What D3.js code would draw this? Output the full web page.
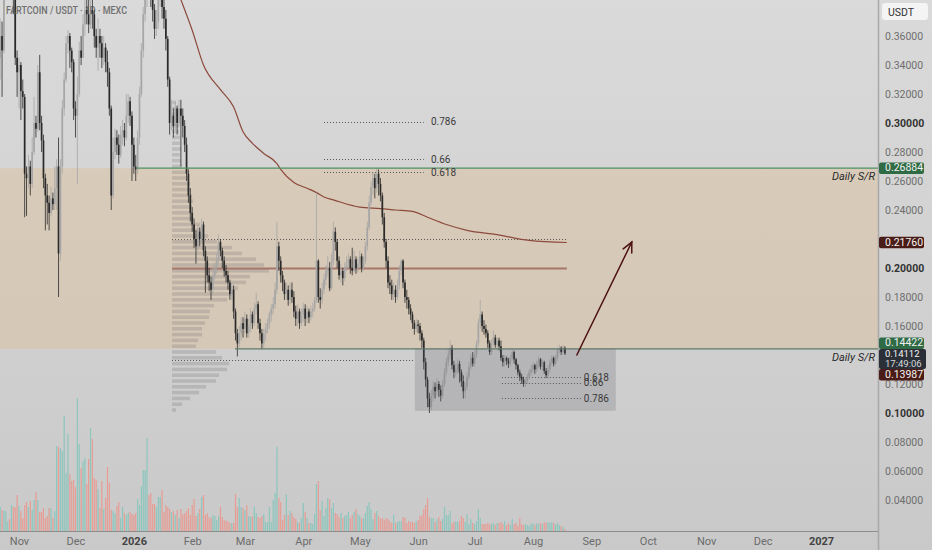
<!DOCTYPE html>
<html>
<head>
<meta charset="utf-8">
<script src="https://cdn.jsdelivr.net/npm/d3@7"></script>
<style>
  html, body { margin: 0; padding: 0; background: #d2d2d2; }
  svg { display: block; font-family: Roboto, "Liberation Sans", sans-serif; }
</style>
</head>
<body>
<div id="chart"></div>
<script>
// Daily candles, first candle = 22 Oct 2025, open of each candle = previous close
const startDay = Date.UTC(2025, 9, 22);
const firstOpen = 0.345;

const closes = [
  .360,.350,.390,.400,.405,.395,.400,.385,.345,.335,
  .340,.322,.318,.265,.262,.270,.258,.280,.300,.296,
  .335,.300,.288,.262,.250,.245,.238,.248,.244,.255,
  .270,.210,.270,.310,.330,.355,.360,.350,.342,.310,
  .305,.320,.350,.345,.368,.378,.375,.368,.378,.375,
  .360,.352,.360,.355,.345,.352,.342,.335,.310,.250,
  .280,.290,.285,.278,.292,.295,.290,.305,.315,.305,
  .285,.270,.268,.290,.320,.350,.375,.385,.400,.395,
  .390,.378,.365,.370,.385,.390,.380,.372,.358,.330,
  .300,.305,.298,.310,.300,.310,.305,.298,.285,.265,
  .250,.238,.230,.220,.215,.225,.220,.230,.212,.205,
  .195,.190,.185,.195,.200,.205,.218,.212,.205,.198,
  .195,.190,.182,.185,.170,.155,.148,.155,.162,.158,
  .165,.155,.160,.168,.162,.172,.175,.162,.155,.148,
  .155,.158,.162,.168,.172,.175,.185,.215,.205,.195,
  .190,.182,.185,.178,.185,.180,.170,.165,.170,.162,
  .168,.172,.165,.170,.166,.170,.172,.178,.205,.180,
  .178,.185,.192,.198,.200,.186,.205,.225,.218,.205,
  .195,.198,.193,.200,.203,.206,.200,.198,.206,.200,
  .203,.208,.200,.205,.215,.228,.245,.256,.262,.255,
  .265,.258,.250,.235,.218,.205,.190,.188,.182,.185,
  .180,.188,.198,.205,.190,.180,.178,.172,.168,.162,
  .158,.161,.160,.155,.150,.135,.123,.110,.104,.112,
  .118,.115,.120,.116,.112,.120,.128,.135,.140,.145,
  .133,.128,.130,.134,.128,.122,.115,.118,.125,.132,
  .138,.134,.140,.148,.162,.168,.160,.158,.155,.148,
  .142,.148,.152,.147,.150,.146,.138,.135,.138,.136,
  .134,.138,.142,.137,.133,.128,.125,.123,.120,.122,
  .125,.128,.130,.133,.130,.134,.137,.132,.135,.129,
  .126,.130,.135,.138,.134,.138,.143,.145,.142,.145,
  .14112
];

const highs = [
  .372,.370,.400,.410,.420,.410,.412,.405,.388,.350,
  .345,.342,.330,.320,.270,.278,.274,.290,.318,.305,
  .340,.347,.305,.292,.265,.258,.250,.256,.252,.270,
  .275,.290,.275,.316,.335,.360,.364,.362,.352,.344,
  .315,.332,.356,.360,.375,.385,.388,.385,.390,.385,
  .378,.365,.372,.365,.360,.360,.355,.350,.338,.312,
  .290,.296,.295,.292,.298,.302,.300,.320,.320,.318,
  .308,.290,.278,.295,.325,.355,.380,.395,.410,.408,
  .400,.395,.382,.378,.392,.400,.395,.385,.378,.360,
  .332,.316,.310,.315,.312,.316,.316,.310,.302,.290,
  .268,.255,.242,.234,.226,.230,.228,.234,.232,.215,
  .208,.200,.194,.200,.204,.210,.223,.220,.214,.208,
  .202,.198,.192,.190,.188,.172,.158,.160,.166,.166,
  .170,.168,.165,.172,.170,.176,.183,.177,.165,.158,
  .158,.162,.165,.170,.175,.180,.190,.232,.218,.208,
  .198,.192,.190,.188,.190,.190,.184,.174,.175,.172,
  .172,.176,.175,.174,.172,.174,.176,.180,.252,.206,
  .186,.190,.196,.202,.208,.204,.210,.232,.228,.220,
  .208,.203,.200,.204,.208,.210,.208,.214,.212,.208,
  .207,.212,.210,.208,.218,.232,.250,.260,.266,.265,
  .269,.268,.262,.252,.238,.220,.208,.195,.192,.190,
  .188,.192,.202,.206,.206,.192,.185,.180,.175,.170,
  .164,.165,.164,.162,.157,.152,.138,.125,.114,.116,
  .122,.121,.124,.122,.119,.123,.131,.138,.144,.150,
  .147,.136,.134,.137,.136,.130,.126,.121,.128,.135,
  .141,.142,.143,.150,.165,.178,.170,.164,.161,.157,
  .150,.151,.157,.154,.152,.152,.150,.140,.140,.139,
  .138,.140,.144,.143,.138,.134,.130,.127,.125,.124,
  .127,.130,.133,.135,.134,.136,.139,.138,.137,.136,
  .131,.133,.137,.140,.139,.140,.145,.147,.146,.147,
  .146
];

const lows = [
  .330,.318,.348,.385,.395,.385,.390,.375,.340,.318,
  .310,.302,.310,.235,.236,.255,.250,.255,.278,.290,
  .294,.295,.280,.255,.226,.230,.226,.236,.240,.240,
  .240,.180,.205,.265,.305,.328,.348,.338,.335,.302,
  .290,.258,.318,.340,.345,.360,.368,.362,.365,.365,
  .352,.345,.336,.345,.338,.340,.335,.325,.305,.240,
  .248,.275,.278,.272,.276,.285,.284,.288,.300,.298,
  .260,.265,.260,.265,.285,.318,.345,.370,.380,.385,
  .380,.370,.358,.360,.365,.380,.372,.365,.350,.325,
  .292,.295,.290,.295,.292,.298,.270,.290,.280,.260,
  .245,.232,.225,.214,.203,.212,.215,.216,.208,.183,
  .190,.184,.178,.182,.192,.196,.203,.208,.200,.194,
  .190,.185,.178,.178,.165,.150,.139,.145,.150,.152,
  .155,.152,.152,.156,.158,.160,.168,.158,.150,.144,
  .145,.150,.155,.158,.163,.168,.172,.182,.198,.190,
  .184,.178,.178,.174,.175,.176,.166,.160,.160,.158,
  .160,.163,.160,.162,.162,.164,.166,.170,.176,.176,
  .172,.175,.182,.188,.194,.184,.185,.202,.212,.200,
  .192,.190,.188,.191,.198,.200,.196,.195,.197,.196,
  .197,.200,.197,.198,.203,.212,.226,.243,.250,.248,
  .252,.250,.246,.230,.214,.200,.186,.182,.178,.178,
  .176,.178,.185,.195,.186,.176,.172,.168,.164,.158,
  .154,.156,.155,.150,.145,.130,.118,.104,.100,.102,
  .108,.110,.112,.111,.108,.110,.118,.126,.132,.137,
  .130,.124,.125,.127,.121,.118,.110,.110,.116,.123,
  .130,.132,.132,.138,.146,.158,.156,.154,.152,.145,
  .140,.140,.146,.145,.144,.143,.136,.132,.132,.133,
  .131,.132,.136,.134,.130,.126,.122,.120,.118,.118,
  .120,.123,.126,.128,.127,.128,.131,.130,.129,.127,
  .124,.124,.128,.133,.132,.133,.136,.141,.140,.141,
  .140
];

// daily volume (relative units)
const volumes = [
  24,21,20,20,10,12,26,24,24,36, 25,20,13,26,29,24,30,21,31,39,
  31,19,19,23,13,15,23,23,13,20, 85,84,83,80,115,58,97,57,50,51,
  44,133,87,63,70,73,47,72,103,92, 53,51,42,23,50,22,33,64,48,21,
  20,18,25,29,13,24,18,16,18,19, 17,16,18,32,26,45,61,61,93,36,
  38,27,27,24,34,34,41,19,26,24, 22,19,20,16,21,13,22,17,18,20,
  23,16,26,32,15,18,22,34,36,16, 18,14,13,16,15,11,15,24,14,11,
  10,10,8,8,8,37,24,33,24,23, 21,26,15,14,15,24,18,14,13,15,
  17,9,9,24,9,31,38,84,33,29, 11,16,37,16,20,18,14,12,9,8,
  13,28,19,13,8,8,7,17,47,50, 21,30,15,23,33,32,23,28,18,17,
  14,18,13,15,16,19,13,16,19,22, 17,15,13,13,18,25,29,22,12,18,
  20,15,12,13,11,13,12,10,8,16, 8,9,10,10,14,13,8,10,9,9,
  8,10,11,15,16,22,26,33,14,13, 13,9,12,14,10,12,24,16,16,20,
  8,9,10,9,10,15,13,9,17,7, 12,8,7,10,22,13,7,7,7,8,
  7,7,8,6,8,8,9,7,10,6, 8,6,12,7,8,5,13,7,6,7,
  6,5,7,8,6,8,7,8,7,9, 8,9,8,9,8,7,8,6,5,4,
  2
];

// brown moving average, read at day indices
const maDays   = [90, 96, 102, 108, 117, 124, 129, 134, 140, 147, 149, 156, 163, 168, 172, 177, 191, 202, 210, 219, 227, 237, 248, 264, 281, 301];
const maValues = [.405,.385,.364,.340,.323,.311,.294,.286,.279,.272,.268,.259,.255,.252,.249,.247,.242,.241,.240,.239,.235,.230,.226,.223,.219,.2176];

// visible range volume profile (bin centre price, relative volume)
const profilePrices = [
  .102,.106,.110,.114,.118,.122,.126,.130,.134,.138,
  .142,.146,.150,.154,.158,.162,.166,.170,.174,.178,
  .182,.186,.190,.194,.198,.202,.206,.210,.214,.218,
  .222,.226,.230,.234,.238,.242,.246,.250,.254,.258,
  .262,.266,.270,.274,.278,.282,.286,.290,.294,.298,
  .302,.306,.310,.314
];
const profileVolumes = [
  4,10,18,27,34,44,47,55,57,50,
  44,24,26,30,30,33,37,38,42,55,
  60,66,74,78,97,92,84,70,60,45,
  36,32,28,22,20,20,21,20,19,18,
  16,15,10,9,8,9,8,8,7,7,
  6,6,5,4
];

const priceTicks = [0.04,0.06,0.08,0.10,0.12,0.14,0.16,0.18,0.20,0.22,0.24,0.26,0.28,0.30,0.32,0.34,0.36];
const boldTicks = [0.10, 0.20, 0.30];
const srLevels = [0.26884, 0.14422];          // Daily S/R
const midLevel = 0.1996;                       // brown horizontal
const upperFib = [[0.786, 0.3007], [0.66, 0.2751], [0.618, 0.2662]];
const lowerFib = [[0.618, 0.1248], [0.66, 0.1207], [0.786, 0.1103]];
const dottedLevels = [[0.2200, 301], [0.1365, 220]];   // price, end day
const boxRange = { d0: 220.3, d1: 327, p0: 0.1015, p1: 0.14422 };
const arrowPts = [[306.3, 0.1400], [335.5, 0.2179]];
const axisLabelValues = [0.26884, 0.21760, 0.14422, 0.14112, 0.13987];
const countdown = "17:49:06";
const title = "FARTCOIN / USDT · 1D · MEXC";

// ---- layout
const W = 932, H = 550;
const plotR = 878, plotB = 531;

const dayDate = i => new Date(startDay + i * 86400000);
const x = d3.scaleUtc()
  .domain([new Date(Date.UTC(2025, 10, 1)), new Date(Date.UTC(2027, 0, 1))])
  .range([19, 821]);
const xd = i => x(dayDate(i));
const y = d3.scaleLinear().domain([0.1, 0.3]).range([413, 123]);
const yVol = d3.scaleLinear().domain([0, 133]).range([plotB, 398]);
const profW = d3.scaleLinear().domain([0, 100]).range([0, 100]);

const svg = d3.select("#chart").append("svg")
  .attr("width", W).attr("height", H);

const defs = svg.append("defs");
const grad = defs.append("linearGradient").attr("id", "bg")
  .attr("x1", 0).attr("y1", 0).attr("x2", 0).attr("y2", 1);
grad.append("stop").attr("offset", "0%").attr("stop-color", "#dadada");
grad.append("stop").attr("offset", "100%").attr("stop-color", "#c9c9c9");
defs.append("clipPath").attr("id", "plot")
  .append("rect").attr("x", 0).attr("y", 0).attr("width", plotR).attr("height", plotB);

svg.append("rect").attr("width", W).attr("height", H).attr("fill", "url(#bg)");

const g = svg.append("g").attr("clip-path", "url(#plot)");

// S/R zone
g.append("rect")
  .attr("x", 0).attr("width", plotR)
  .attr("y", y(srLevels[0])).attr("height", y(srLevels[1]) - y(srLevels[0]))
  .attr("fill", "rgba(222,190,150,0.45)");

// volume bars
const candles = closes.map((c, i) => ({
  i, c, h: highs[i], l: lows[i], o: i === 0 ? firstOpen : closes[i - 1], v: volumes[i]
}));
g.append("g").selectAll("rect").data(candles).join("rect")
  .attr("x", d => xd(d.i) - 0.6).attr("width", 1.2)
  .attr("y", d => yVol(d.v)).attr("height", d => plotB - yVol(d.v))
  .attr("fill", d => d.c >= d.o ? "#8cc6bd" : "#e79c94");

// volume profile
const binH = Math.abs(y(0.104) - y(0.100));
const profX = xd(91.3);
g.append("g").selectAll("rect").data(profilePrices).join("rect")
  .attr("x", profX)
  .attr("y", (p) => y(p) - binH / 2 + 1)
  .attr("width", (p, k) => profW(profileVolumes[k]))
  .attr("height", binH - 2.2)
  .attr("fill", "rgba(95,95,100,0.21)");

// dotted levels
const dots = g.append("g").attr("stroke", "#4a4a4a").attr("stroke-width", 0.9)
  .attr("stroke-dasharray", "1,2").attr("fill", "none");
dottedLevels.forEach(([p, end]) => {
  dots.append("line").attr("x1", xd(91.3)).attr("x2", xd(end))
    .attr("y1", Math.round(y(p)) + 0.5).attr("y2", Math.round(y(p)) + 0.5);
});
upperFib.forEach(([lab, p]) => {
  dots.append("line").attr("x1", xd(172)).attr("x2", xd(225))
    .attr("y1", Math.round(y(p)) + 0.5).attr("y2", Math.round(y(p)) + 0.5);
});
lowerFib.forEach(([lab, p]) => {
  dots.append("line").attr("x1", xd(266.5)).attr("x2", xd(308.5))
    .attr("y1", Math.round(y(p)) + 0.5).attr("y2", Math.round(y(p)) + 0.5);
});

// brown horizontal level
g.append("line")
  .attr("x1", xd(91.3)).attr("x2", xd(301))
  .attr("y1", y(midLevel)).attr("y2", y(midLevel))
  .attr("stroke", "#9a6358").attr("stroke-width", 2).attr("opacity", 0.8);

// moving average
g.append("path")
  .datum(maDays.map((d, k) => [d, maValues[k]]))
  .attr("fill", "none").attr("stroke", "#8c4a3c").attr("stroke-width", 1.2)
  .attr("d", d3.line().x(d => xd(d[0])).y(d => y(d[1])).curve(d3.curveMonotoneX));

// candles
const cg = g.append("g");
cg.selectAll("line").data(candles).join("line")
  .attr("x1", d => xd(d.i)).attr("x2", d => xd(d.i))
  .attr("y1", d => y(Math.max(d.h, d.o, d.c))).attr("y2", d => y(Math.min(d.l, d.o, d.c)))
  .attr("stroke", d => d.c >= d.o ? "#a6a6a6" : "#2a2a2a").attr("stroke-width", 0.8);
cg.selectAll("rect").data(candles).join("rect")
  .attr("x", d => xd(d.i) - 0.85).attr("width", 1.7)
  .attr("y", d => y(Math.max(d.o, d.c)))
  .attr("height", d => Math.max(1, Math.abs(y(d.o) - y(d.c))))
  .attr("fill", d => d.c >= d.o ? "#a6a6a6" : "#2a2a2a");

// S/R lines
g.append("line").attr("x1", xd(72.7)).attr("x2", plotR)
  .attr("y1", y(srLevels[0])).attr("y2", y(srLevels[0]))
  .attr("stroke", "#4f9060").attr("stroke-width", 1.2);
g.append("line").attr("x1", xd(124.7)).attr("x2", plotR)
  .attr("y1", y(srLevels[1])).attr("y2", y(srLevels[1]))
  .attr("stroke", "#5c7a6c").attr("stroke-width", 1.2);

// gray box
g.append("rect")
  .attr("x", xd(boxRange.d0)).attr("width", xd(boxRange.d1) - xd(boxRange.d0))
  .attr("y", y(boxRange.p1)).attr("height", y(boxRange.p0) - y(boxRange.p1))
  .attr("fill", "rgba(95,95,105,0.22)");

// fib labels
const fibText = g.append("g").attr("font-size", 10).attr("fill", "#3a3a3a");
upperFib.forEach(([lab, p]) => {
  fibText.append("text").attr("x", xd(228.8)).attr("y", y(p)).attr("dy", "0.35em").text(lab);
});
lowerFib.forEach(([lab, p]) => {
  fibText.append("text").attr("x", xd(310)).attr("y", y(p)).attr("dy", "0.35em").text(lab);
});

// Daily S/R text
srLevels.forEach(p => {
  g.append("text").attr("x", 875).attr("y", y(p) + 12)
    .attr("text-anchor", "end").attr("font-size", 11).attr("font-style", "italic")
    .attr("fill", "#2b2b2b").text("Daily S/R");
});

// arrow
const a0 = [xd(arrowPts[0][0]), y(arrowPts[0][1])];
const a1 = [xd(arrowPts[1][0]), y(arrowPts[1][1])];
const ang = Math.atan2(a1[1] - a0[1], a1[0] - a0[0]);
const hl = 11;
const ag = g.append("g").attr("stroke", "#4e1212").attr("stroke-width", 1.5)
  .attr("fill", "none").attr("stroke-linecap", "round");
ag.append("line").attr("x1", a0[0]).attr("y1", a0[1]).attr("x2", a1[0]).attr("y2", a1[1]);
ag.append("path").attr("d", d3.line()([
  [a1[0] - hl * Math.cos(ang - 0.45), a1[1] - hl * Math.sin(ang - 0.45)],
  a1,
  [a1[0] - hl * Math.cos(ang + 0.45), a1[1] - hl * Math.sin(ang + 0.45)]
]));

// title
svg.append("text").attr("x", 6).attr("y", 14)
  .attr("font-size", 10).attr("font-weight", 500).attr("fill", "#555")
  .attr("textLength", 121).attr("lengthAdjust", "spacingAndGlyphs")
  .attr("opacity", 0.8).text(title);

// ---- axes
svg.append("line").attr("x1", 0).attr("x2", plotR).attr("y1", plotB + 0.5).attr("y2", plotB + 0.5)
  .attr("stroke", "#8d8d8d");
svg.append("line").attr("x1", plotR + 0.5).attr("x2", plotR + 0.5).attr("y1", 0).attr("y2", H)
  .attr("stroke", "#a8a8a8").attr("stroke-width", 1.5);

const months = d3.utcMonth.range(new Date(Date.UTC(2025, 10, 1)), new Date(Date.UTC(2027, 0, 2)));
const xAxis = svg.append("g").attr("transform", `translate(0,${plotB})`)
  .call(d3.axisBottom(x).tickValues(months).tickSize(0).tickPadding(6)
    .tickFormat(d => d.getUTCMonth() === 0 ? d3.utcFormat("%Y")(d) : d3.utcFormat("%b")(d)));
xAxis.select(".domain").remove();
xAxis.selectAll("text").attr("font-size", 11).attr("font-family", "Roboto, sans-serif")
  .attr("fill", d => d.getUTCMonth() === 0 ? "#444" : "#6b6b6b")
  .attr("font-weight", d => d.getUTCMonth() === 0 ? 700 : 400);

// price labels on the axis (stacked when crowded)
const labStyle = ["#2f6b45", "#4a1c17", "#2f6b45", "#2b3038", "#4a1c17"];
const labs = axisLabelValues.map((v, k) => ({ v, fill: labStyle[k], h: k === 3 ? 20 : 11.5 }));
let prevBottom = -Infinity;
labs.forEach((d, k) => {
  const yc = y(d.v);
  const next = labs[k + 1];
  let top = yc - d.h / 2;
  if (next && y(next.v) - yc < d.h) top = yc - d.h;
  top = Math.max(top, prevBottom);
  d.top = top;
  prevBottom = top + d.h;
});

// axis ticks, leaving out the ones hidden behind a label
const covered = t => labs.some(d => y(t) > d.top - 2 && y(t) < d.top + d.h + 2);
const yAxis = svg.append("g").attr("transform", `translate(${plotR},0)`)
  .call(d3.axisRight(y).tickValues(priceTicks.filter(t => !covered(t))).tickSize(0).tickPadding(7)
    .tickFormat(d3.format(".5f")));
yAxis.select(".domain").remove();
yAxis.selectAll("text").attr("font-size", 10.5).attr("font-family", "Roboto, sans-serif")
  .attr("fill", d => boldTicks.some(b => Math.abs(b - d) < 1e-9) ? "#333" : "#6e6e6e")
  .attr("font-weight", d => boldTicks.some(b => Math.abs(b - d) < 1e-9) ? 700 : 400);

// USDT box
svg.append("rect").attr("x", 882).attr("y", 3).attr("width", 46).attr("height", 17)
  .attr("rx", 3).attr("fill", "#f4f4f4");
svg.append("text").attr("x", 888).attr("y", 15.5).attr("font-size", 10.5)
  .attr("fill", "#333").text("USDT");

const lg = svg.append("g");
labs.forEach((d, k) => {
  lg.append("rect").attr("x", plotR + 1).attr("y", d.top).attr("width", k === 3 ? 47 : 45)
    .attr("height", d.h).attr("rx", 2).attr("fill", d.fill);
  lg.append("text").attr("x", plotR + 7).attr("y", d.top + (k === 3 ? 8.5 : 9))
    .attr("font-size", k === 3 ? 9.5 : 10.5).attr("fill", "#f2f2f2").text(d3.format(".5f")(d.v));
  if (k === 3) {
    lg.append("text").attr("x", plotR + 7).attr("y", d.top + 18)
      .attr("font-size", 9.5).attr("fill", "#d8d8d8").text(countdown);
  }
});
</script>
</body>
</html>
